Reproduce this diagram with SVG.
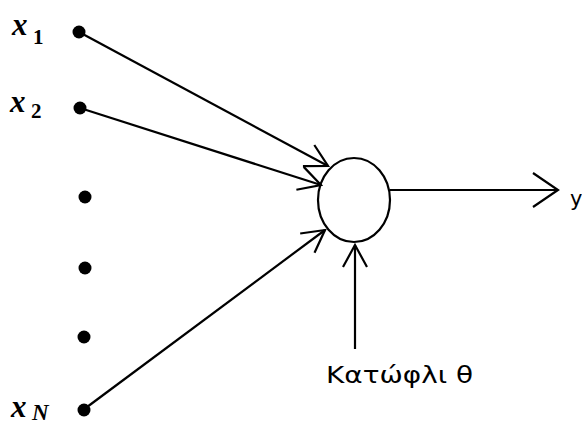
<svg xmlns="http://www.w3.org/2000/svg" width="582" height="427" viewBox="0 0 582 427">
<style>
.ln{stroke:#000;stroke-width:2.2;fill:none}
.dot{fill:#000}
.var{font-family:"Liberation Serif",serif;font-style:italic;font-weight:bold;font-size:31px;fill:#000}
.sub{font-family:"Liberation Serif",serif;font-weight:bold;font-size:21px;fill:#000}
.lbl{font-family:"DejaVu Sans",sans-serif;fill:#000}
</style>
<defs>
<marker id="ah" markerUnits="userSpaceOnUse" viewBox="-24 -14 26 28" refX="0" refY="0" markerWidth="26" markerHeight="28" orient="auto">
<path d="M-22,-12 L0,0 L-22,12" stroke="#000" stroke-width="2.2" fill="none"/>
</marker>
<marker id="ahBig" markerUnits="userSpaceOnUse" viewBox="-30 -20 32 40" refX="0" refY="0" markerWidth="32" markerHeight="40" orient="auto">
<path d="M-25,-17 L0,0 L-25,17" stroke="#000" stroke-width="2.2" fill="none"/>
</marker>
</defs>
<g id="connectors">
<line class="ln" x1="79" y1="32" x2="328" y2="166" marker-end="url(#ah)"/>
<line class="ln" x1="80" y1="108" x2="321" y2="185" marker-end="url(#ah)"/>
<line class="ln" x1="83" y1="410" x2="325" y2="230" marker-end="url(#ah)"/>
<line class="ln" x1="355" y1="349" x2="355" y2="245" marker-end="url(#ah)"/>
<line class="ln" x1="390" y1="190" x2="558" y2="190" marker-end="url(#ahBig)"/>
</g>
<g id="neuron"><ellipse class="ln" cx="354" cy="200" rx="36" ry="42"/></g>
<g id="in1"><circle class="dot" cx="79" cy="32" r="6.5"/><text class="var" x="12" y="35">x</text><text class="sub" x="33" y="44">1</text></g>
<g id="in2"><circle class="dot" cx="80" cy="108" r="6.5"/><text class="var" x="10" y="112">x</text><text class="sub" x="31" y="118">2</text></g>
<g id="dots"><circle class="dot" cx="85" cy="197" r="6.5"/><circle class="dot" cx="85" cy="268" r="6.5"/><circle class="dot" cx="84" cy="337" r="6.5"/></g>
<g id="inN"><circle class="dot" cx="84" cy="410" r="6.5"/><text class="var" x="11" y="417">x</text><text class="var" x="32" y="420" style="font-size:23px">N</text></g>
<g id="out"><text class="lbl" x="570" y="206" style="font-size:21px">y</text></g>
<g id="thr"><text class="lbl" x="326" y="383" style="font-size:23px" textLength="147" lengthAdjust="spacingAndGlyphs">Κατώφλι θ</text></g>
</svg>
